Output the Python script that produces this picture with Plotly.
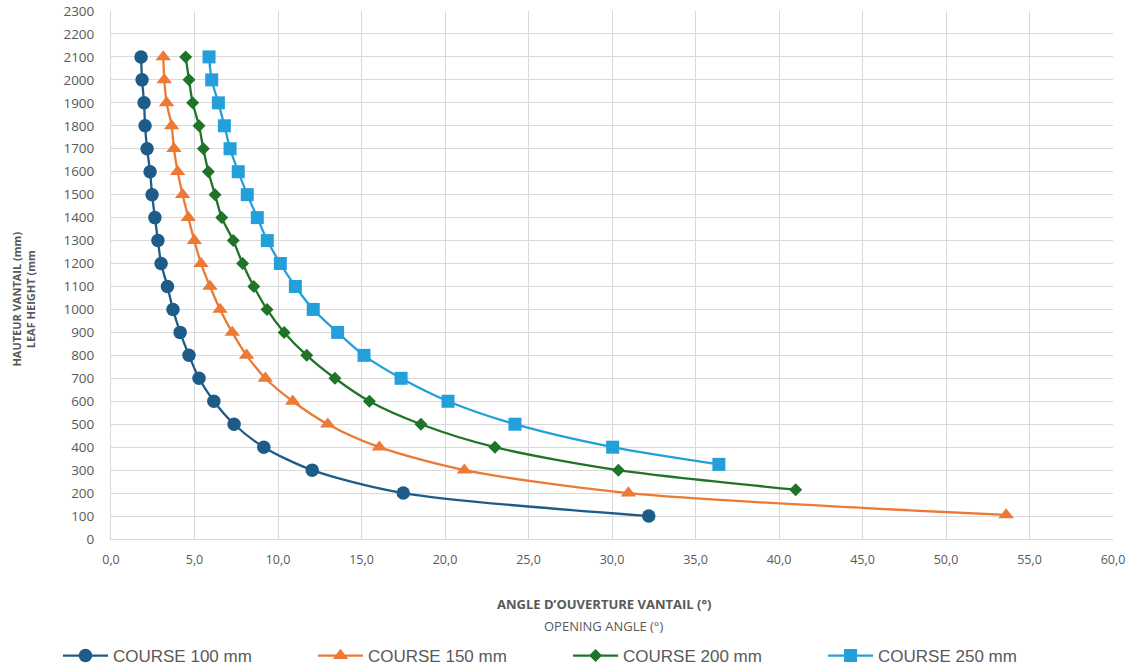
import plotly.graph_objects as go

# ---------------- data ----------------
h_100 = [2100, 2000, 1900, 1800, 1700, 1600, 1500, 1400, 1300, 1200, 1100,
         1000, 900, 800, 700, 600, 500, 400, 300, 200, 100]
a_100 = [1.80, 1.86, 1.98, 2.04, 2.16, 2.34, 2.46, 2.63, 2.81, 3.00, 3.38,
         3.71, 4.14, 4.67, 5.27, 6.16, 7.37, 9.15, 12.05, 17.5, 32.2]

h_150 = [2100, 2000, 1900, 1800, 1700, 1600, 1500, 1400, 1300, 1200, 1100,
         1000, 900, 800, 700, 600, 500, 400, 300, 200, 105]
a_150 = [3.13, 3.19, 3.33, 3.63, 3.77, 3.99, 4.29, 4.63, 4.99, 5.39, 5.93,
         6.53, 7.26, 8.12, 9.24, 10.88, 12.98, 16.07, 21.16, 30.98, 53.6]

h_200 = [2100, 2000, 1900, 1800, 1700, 1600, 1500, 1400, 1300, 1200, 1100,
         1000, 900, 800, 700, 600, 500, 400, 300, 215]
a_200 = [4.47, 4.67, 4.89, 5.27, 5.53, 5.83, 6.23, 6.63, 7.32, 7.88, 8.55,
         9.34, 10.37, 11.72, 13.41, 15.47, 18.56, 22.99, 30.38, 41.0]

h_250 = [2100, 2000, 1900, 1800, 1700, 1600, 1500, 1400, 1300, 1200, 1100,
         1000, 900, 800, 700, 600, 500, 400, 325]
a_250 = [5.87, 6.03, 6.43, 6.79, 7.13, 7.62, 8.16, 8.76, 9.36, 10.14, 11.04,
         12.11, 13.57, 15.15, 17.37, 20.18, 24.19, 30.04, 36.4]

series_names = ["COURSE 100 mm", "COURSE 150 mm", "COURSE 200 mm", "COURSE 250 mm"]

x_tickvals = [0, 5, 10, 15, 20, 25, 30, 35, 40, 45, 50, 55, 60]
x_ticktext = ["0,0", "5,0", "10,0", "15,0", "20,0", "25,0", "30,0",
              "35,0", "40,0", "45,0", "50,0", "55,0", "60,0"]
y_tickvals = list(range(0, 2301, 100))

x_title_1 = "ANGLE D\u2019OUVERTURE VANTAIL (°)"
x_title_2 = "OPENING ANGLE (°)"
y_title = "HAUTEUR VANTAIL (mm)<br>LEAF HEIGHT (mm"

# ---------------- styles ----------------
colors = ["#1d5c88", "#ec7a35", "#1f7428", "#23a0da"]
symbols = ["circle", "triangle-up", "diamond", "square"]
sizes = [13.5, 13.5, 10, 13]
legend_ids = ["legend", "legend", "legend2", "legend2"]
GRAY = "#595959"
GRID = "#d9d9d9"

fig = go.Figure()
for name, xs, ys, c, s, sz, lg in zip(series_names, [a_100, a_150, a_200, a_250],
                                      [h_100, h_150, h_200, h_250], colors, symbols,
                                      sizes, legend_ids):
    fig.add_trace(go.Scatter(
        x=xs, y=ys, name=name, mode="lines+markers", legend=lg,
        line=dict(color=c, width=2.3, shape="spline", smoothing=0.8),
        marker=dict(symbol=s, size=sz, color=c, line=dict(width=0)),
    ))

legend_style = dict(
    orientation="h", xref="container", yref="container",
    xanchor="left", y=0.018, yanchor="middle",
    font=dict(family="Liberation Sans", size=17, color=GRAY),
    entrywidth=195, entrywidthmode="pixels", itemwidth=45,
    bgcolor="rgba(0,0,0,0)",
)

fig.update_layout(
    width=1130, height=668,
    margin=dict(l=111, r=17, t=11, b=129),
    paper_bgcolor="white", plot_bgcolor="white",
    font=dict(family="Open Sans", color=GRAY, size=12),
    showlegend=True,
    legend=dict(legend_style, x=0.0513),
    legend2=dict(legend_style, x=0.5027),
    xaxis=dict(
        range=[0, 60], tickvals=x_tickvals, ticktext=x_ticktext,
        showgrid=True, gridcolor=GRID, gridwidth=1, automargin=False,
        zeroline=False, showline=True, linecolor=GRID, linewidth=1,
        ticks="", tickfont=dict(size=12.5, color=GRAY), ticklabelstandoff=9,
    ),
    yaxis=dict(
        range=[0, 2300], tickvals=y_tickvals, automargin=False,
        showgrid=True, gridcolor=GRID, gridwidth=1,
        zeroline=False, showline=True, linecolor=GRID, linewidth=1,
        ticks="", tickfont=dict(size=13.5, color=GRAY), ticklabelstandoff=13,
    ),
    annotations=[
        dict(text="<b>" + x_title_1 + "</b>", xref="paper", yref="paper",
             x=0.492, y=-0.123, xanchor="center", yanchor="middle",
             showarrow=False, font=dict(size=13, color=GRAY)),
        dict(text=x_title_2, xref="paper", yref="paper",
             x=0.492, y=-0.164, xanchor="center", yanchor="middle",
             showarrow=False, font=dict(size=13, color=GRAY)),
        dict(text="<b>" + y_title + "</b>", xref="paper", yref="paper",
             x=-0.087, y=0.455, xanchor="center", yanchor="middle",
             textangle=-90, showarrow=False, font=dict(size=11, color=GRAY)),
    ],
)

fig.write_html("out.html")
